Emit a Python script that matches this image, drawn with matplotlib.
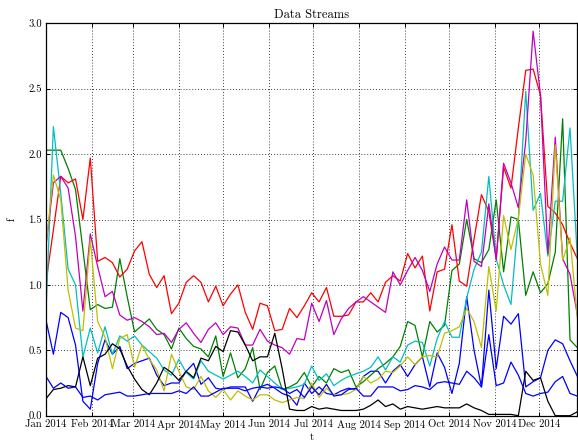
import numpy as np
import pandas as pd
import matplotlib
matplotlib.use("Agg")
import matplotlib.pyplot as plt
import matplotlib.dates as mdates

plt.rcParams["font.family"] = "cmr10"
plt.rcParams["mathtext.fontset"] = "cm"
plt.rcParams["axes.formatter.use_mathtext"] = True

# 5-day samples, Jan 1 .. Dec 27 2014
t = pd.date_range("2014-01-01", periods=73, freq="5D")

blue_a = [0.73, 0.47, 0.79, 0.75, 0.54, 0.11, 0.05, 0.40, 0.58, 0.47, 0.53, 0.36, 0.40, 0.42, 0.44,
          0.31, 0.23, 0.25, 0.25, 0.34, 0.40, 0.24, 0.29, 0.21, 0.20, 0.22, 0.22, 0.22, 0.11, 0.22,
          0.24, 0.21, 0.17, 0.15, 0.08, 0.25, 0.17, 0.22, 0.17, 0.16, 0.19, 0.21, 0.20, 0.30, 0.34,
          0.34, 0.25, 0.34, 0.39, 0.30, 0.39, 0.45, 0.22, 0.48, 0.37, 0.17, 0.40, 0.91, 0.50, 0.22,
          0.96, 0.36, 0.76, 0.70, 0.78, 0.22, 0.26, 0.29, 0.50, 0.58, 0.55, 0.42, 0.30]
green = [2.03, 2.03, 2.03, 1.89, 1.73, 1.27, 0.81, 0.85, 0.82, 0.83, 1.20, 0.91, 0.64, 0.69, 0.74,
         0.66, 0.62, 0.51, 0.67, 0.59, 0.53, 0.51, 0.45, 0.61, 0.30, 0.48, 0.29, 0.36, 0.52, 0.20,
         0.33, 0.38, 0.20, 0.22, 0.25, 0.33, 0.22, 0.30, 0.25, 0.36, 0.33, 0.35, 0.22, 0.26, 0.31,
         0.36, 0.40, 0.45, 0.53, 0.72, 0.69, 0.45, 0.72, 0.64, 0.69, 1.11, 1.16, 1.50, 1.20, 1.17,
         1.27, 1.65, 1.10, 1.52, 1.50, 0.92, 1.10, 0.94, 1.01, 1.25, 2.27, 0.58, 0.52]
red = [1.02, 1.42, 1.83, 1.78, 1.81, 1.50, 1.97, 1.18, 1.21, 1.17, 1.06, 1.12, 1.26, 1.33, 1.08,
       0.98, 1.07, 0.78, 0.86, 1.02, 1.07, 1.02, 0.87, 0.99, 0.84, 0.93, 1.00, 0.79, 0.66, 0.86,
       0.84, 0.65, 0.66, 0.82, 0.75, 0.84, 0.94, 0.87, 0.98, 0.76, 0.76, 0.77, 0.87, 0.87, 0.94,
       0.87, 1.02, 1.07, 1.03, 1.24, 1.13, 1.22, 0.80, 1.10, 1.12, 1.46, 1.03, 0.99, 1.35, 1.69,
       1.56, 1.20, 1.90, 1.74, 2.20, 2.64, 2.65, 2.45, 1.60, 1.55, 1.46, 1.32, 1.20]
cyan = [0.80, 2.21, 1.70, 1.12, 1.00, 0.45, 0.67, 0.48, 0.68, 0.47, 0.61, 0.57, 0.61, 0.54, 0.49,
        0.44, 0.35, 0.31, 0.43, 0.33, 0.28, 0.42, 0.34, 0.31, 0.28, 0.31, 0.34, 0.30, 0.25, 0.35,
        0.30, 0.25, 0.20, 0.21, 0.22, 0.24, 0.38, 0.27, 0.32, 0.23, 0.27, 0.30, 0.32, 0.34, 0.37,
        0.45, 0.35, 0.45, 0.41, 0.54, 0.57, 0.56, 0.38, 0.59, 0.72, 0.60, 0.60, 0.90, 1.12, 1.25,
        1.83, 1.20, 1.00, 0.85, 1.50, 2.48, 1.57, 1.70, 1.22, 1.64, 1.64, 2.20, 1.20]
magenta = [1.30, 1.78, 1.83, 1.74, 1.37, 0.80, 1.39, 1.14, 0.91, 0.95, 0.77, 0.73, 0.75, 0.72, 0.68,
           0.62, 0.63, 0.56, 0.66, 0.71, 0.63, 0.56, 0.66, 0.71, 0.62, 0.68, 0.67, 0.54, 0.54, 0.66,
           0.57, 0.54, 0.52, 0.47, 0.59, 0.58, 0.86, 0.72, 0.88, 0.62, 0.74, 0.82, 0.87, 0.91, 0.87,
           0.83, 0.79, 1.10, 1.00, 1.11, 1.21, 1.11, 0.95, 1.16, 1.29, 1.19, 1.19, 1.65, 1.18, 1.14,
           1.62, 1.19, 1.93, 1.78, 1.59, 2.10, 2.94, 2.45, 1.24, 2.13, 1.20, 1.08, 0.77]
yellow = [1.30, 1.84, 1.65, 0.96, 0.67, 0.65, 1.35, 0.72, 0.60, 0.36, 0.59, 0.62, 0.37, 0.54, 0.43,
          0.35, 0.19, 0.47, 0.34, 0.22, 0.20, 0.30, 0.19, 0.14, 0.20, 0.12, 0.19, 0.15, 0.12, 0.16,
          0.16, 0.12, 0.10, 0.12, 0.14, 0.13, 0.25, 0.14, 0.21, 0.16, 0.16, 0.17, 0.20, 0.30, 0.25,
          0.28, 0.34, 0.33, 0.38, 0.45, 0.39, 0.45, 0.46, 0.45, 0.63, 0.65, 0.68, 0.82, 0.72, 0.52,
          1.14, 0.80, 1.53, 1.27, 1.51, 2.00, 1.84, 1.16, 0.92, 2.07, 1.19, 1.36, 0.74]
black = [0.13, 0.20, 0.21, 0.23, 0.22, 0.45, 0.23, 0.44, 0.47, 0.55, 0.51, 0.38, 0.28, 0.20, 0.16,
         0.25, 0.37, 0.33, 0.27, 0.34, 0.29, 0.44, 0.42, 0.53, 0.49, 0.65, 0.64, 0.54, 0.42, 0.45,
         0.45, 0.63, 0.36, 0.05, 0.04, 0.04, 0.07, 0.05, 0.06, 0.05, 0.04, 0.04, 0.04, 0.05, 0.08,
         0.12, 0.07, 0.09, 0.05, 0.07, 0.06, 0.05, 0.06, 0.07, 0.06, 0.06, 0.06, 0.09, 0.06, 0.04,
         0.01, 0.01, 0.01, 0.01, 0.00, 0.34, 0.27, 0.29, 0.11, 0.00, 0.00, 0.00, 0.03]
blue_b = [0.30, 0.21, 0.25, 0.21, 0.22, 0.14, 0.15, 0.12, 0.16, 0.17, 0.18, 0.15, 0.15, 0.16, 0.17,
          0.17, 0.17, 0.17, 0.19, 0.17, 0.22, 0.15, 0.15, 0.18, 0.21, 0.21, 0.21, 0.19, 0.21, 0.22,
          0.21, 0.22, 0.21, 0.17, 0.20, 0.14, 0.22, 0.16, 0.24, 0.15, 0.16, 0.20, 0.21, 0.15, 0.15,
          0.22, 0.22, 0.22, 0.19, 0.20, 0.23, 0.22, 0.20, 0.25, 0.26, 0.25, 0.24, 0.34, 0.29, 0.22,
          0.62, 0.23, 0.25, 0.41, 0.31, 0.17, 0.15, 0.17, 0.18, 0.26, 0.30, 0.17, 0.15]

series = [(blue_a, "b"), (green, "g"), (red, "r"), (cyan, "c"),
          (magenta, "m"), (yellow, "y"), (black, "k"), (blue_b, "b")]
colors = {"b": "#0000ff", "g": "#008000", "r": "#ff0000", "c": "#00bfbf",
          "m": "#bf00bf", "y": "#bfbf00", "k": "#000000"}

fig = plt.figure(figsize=(5.78, 4.43), dpi=100)
ax = fig.add_axes([46 / 578, 1 - 415.7 / 443, 531.4 / 578, 392.4 / 443])

for vals, c in series:
    ax.plot(t, vals, color=colors[c], lw=0.9)

ax.set_xlim(t[0], t[-1])
ax.set_ylim(0, 3.0)
ax.xaxis.set_major_locator(mdates.MonthLocator())
ax.xaxis.set_major_formatter(mdates.DateFormatter("%b %Y"))
ax.yaxis.set_major_locator(plt.MultipleLocator(0.5))
ax.yaxis.set_major_formatter(plt.FormatStrFormatter("%.1f"))
ax.tick_params(direction="in", top=True, right=True, length=3, width=0.7, labelsize=7.7, pad=3)
ax.grid(True, color="k", linestyle=(0, (1, 2.5)), linewidth=0.6)
for s in ax.spines.values():
    s.set_linewidth(0.9)

ax.set_title("Data Streams", fontsize=9, pad=4)
ax.set_xlabel("t", fontsize=7.7, labelpad=2)
ax.set_ylabel("f", fontsize=7.7, labelpad=8)

fig.savefig("out.png", dpi=100)
